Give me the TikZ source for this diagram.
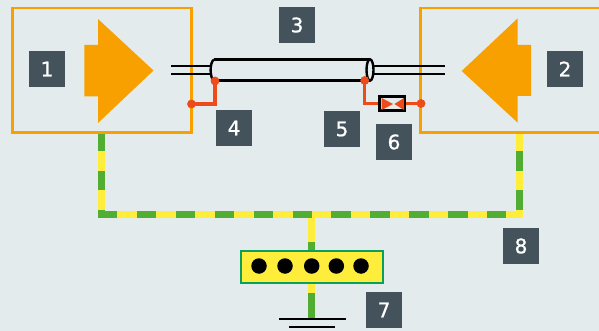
\documentclass[tikz,border=0pt]{standalone}
\usepackage{fontspec}
\setmainfont{DejaVu Sans}[FakeBold=1]
\definecolor{bgc}{HTML}{E3EBED}
\definecolor{orangec}{HTML}{F7A000}
\definecolor{badgec}{HTML}{44525C}
\definecolor{redc}{HTML}{EE4B1A}
\definecolor{greenc}{HTML}{52AE32}
\definecolor{yellowc}{HTML}{FFED3B}
\definecolor{termc}{HTML}{0A9F5A}
\tikzset{
  badge/.style={fill=badgec,text=white,minimum width=36pt,minimum height=36pt,inner sep=0pt,font=\fontsize{20}{20}\selectfont},
  unitbox/.style={draw=orangec,line width=2.6pt,fill=none},
  bigarrow/.style={fill=orangec,draw=none},
  wire/.style={draw=black,line width=2.5pt},
  redline/.style={draw=redc,line width=3.2pt},
  reddot/.style={circle,fill=redc,minimum size=8.5pt,inner sep=0pt},
  hole/.style={circle,fill=black,minimum size=15.5pt,inner sep=0pt},
  stripebase/.style={draw=yellowc,line width=7pt},
  stripegreen/.style={draw=greenc,line width=7pt,dash pattern=on 19.45pt off 19.45pt},
  gnd/.style={draw=black,line width=2.5pt}
}
\begin{document}
\begin{tikzpicture}[x=1pt,y=-1pt]
\useasboundingbox (0,0) rectangle (599,331);
\fill[bgc] (0,0) rectangle (599,331);
% earth network
\coordinate (eL) at (101,132); \coordinate (cL) at (101,214);
\coordinate (eR) at (519,132); \coordinate (cR) at (519,214);
\coordinate (jT) at (311,214);
\coordinate (g0) at (311,319);
\draw[stripebase] (eL) -- (101,217);
\draw[stripegreen] (eL) -- (101,211);
\draw[stripebase] (eR) -- (519,217);
\draw[stripegreen,dash phase=19.45pt] (eR) -- (519,211);
\draw[stripebase] (jT) -- (311,251);
\draw[draw=greenc,line width=7pt] (311,242) -- (311,251);
\draw[stripebase] (311,282) -- (311,293);
\draw[draw=greenc,line width=7pt] (311,293) -- (g0);
\draw[stripebase] (98,214) -- (522,214);
\draw[stripegreen] (98,214) -- (522,214);
% terminal bar
\node[draw=termc,fill=yellowc,line width=2pt,inner sep=0pt,minimum width=142pt,minimum height=32pt] (term) at (311.8,266.5) {};
\node[hole] (h1) at (259,266) {};
\node[hole] (h2) at (285,266) {};
\node[hole] (h3) at (311.7,266) {};
\node[hole] (h4) at (336.3,266) {};
\node[hole] (h5) at (361,266) {};
% ground
\coordinate (g1a) at (279,319); \coordinate (g1b) at (346,319);
\coordinate (g2a) at (289,327); \coordinate (g2b) at (335,327);
\draw[gnd] (g1a) -- (g1b);
\draw[gnd] (g2a) -- (g2b);
% units
\draw[unitbox] (12.5,8) rectangle (191.5,132.5);
\draw[unitbox] (600,8) -- (420.5,8) -- (420.5,132.5) -- (600,132.5);
\fill[bigarrow] (84.3,45) -- (98,45) -- (98,19) -- (153.5,70.5) -- (98,123) -- (98,96.5) -- (84.3,96.5) -- cycle;
\fill[bigarrow] (531,45) -- (517.5,45) -- (517.5,18.5) -- (461.7,71) -- (517.5,122.5) -- (517.5,96) -- (531,96) -- cycle;
% wires
\coordinate (wl1) at (171,66); \coordinate (wl2) at (171,74);
\coordinate (wl1e) at (212,66); \coordinate (wl2e) at (212,74);
\coordinate (wr1) at (374,66); \coordinate (wr2) at (374,74);
\coordinate (wr1e) at (445,66); \coordinate (wr2e) at (445,74);
\draw[wire] (wl1) -- (wl1e);
\draw[wire] (wl2) -- (wl2e);
\draw[wire] (wr1) -- (wr1e);
\draw[wire] (wr2) -- (wr2e);
% cable
\draw[black,line width=3pt] (213.5,59.5) -- (370,59.5);
\draw[black,line width=2.4pt] (213.5,80.7) -- (370,80.7);
\draw[black,line width=2.4pt] (214,59.5) .. controls (209.5,62) and (209.5,78) .. (214,81);
\draw[black,line width=2.4pt,fill=bgc] (370,70) ellipse [x radius=3.5pt,y radius=10.7pt];
% shield bonds
\node[reddot] (d1) at (215,81) {};
\node[reddot] (d2) at (191.5,104) {};
\node[reddot] (d3) at (364.7,80.5) {};
\node[reddot] (d4) at (421,103.5) {};
\node[draw=black,fill=bgc,line width=2.6pt,inner sep=0pt,minimum width=25pt,minimum height=14.5pt] (fuse) at (392,103.5) {};
\draw[redline] (d1.center) |- (d2.center);
\draw[redline] (d3.center) |- (fuse.west);
\draw[redline] (fuse.east) -- (d4.center);
\node[reddot] at (d1) {};
\node[reddot] at (d2) {};
\node[reddot] at (d3) {};
\node[reddot] at (d4) {};
\fill[redc] (381.7,98) -- (393,104) -- (381.7,110) -- cycle;
\fill[redc] (404,98) -- (394.3,104) -- (404,110) -- cycle;
% badges
\node[badge] (b1) at (47,69) {1};
\node[badge] (b2) at (565,69) {2};
\node[badge] (b3) at (297,25) {3};
\node[badge] (b4) at (234,128) {4};
\node[badge] (b5) at (342,129) {5};
\node[badge] (b6) at (394,142) {6};
\node[badge] (b7) at (384,310) {7};
\node[badge] (b8) at (521,246) {8};
\end{tikzpicture}
\end{document}
